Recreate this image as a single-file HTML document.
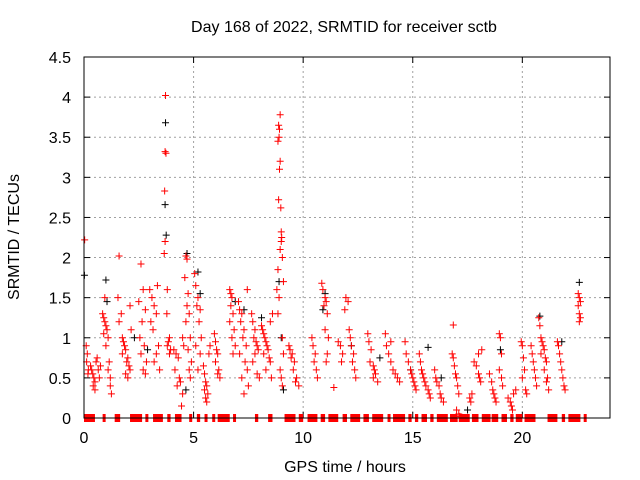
<!DOCTYPE html>
<html><head><meta charset="utf-8"><style>
body{margin:0;background:#fff}
svg{display:block;font-family:"Liberation Sans",sans-serif}
</style></head><body>
<svg id="chart" width="640" height="480">
<rect width="640" height="480" fill="#fff"/>
<text x="344" y="32" text-anchor="middle" font-size="16">Day 168 of 2022, SRMTID for receiver sctb</text>
<text x="345" y="472" text-anchor="middle" font-size="16">GPS time / hours</text>
<text transform="translate(19,237) rotate(-90)" text-anchor="middle" font-size="16">SRMTID / TECUs</text>
<g id="grid"></g><g id="ticks"></g><g id="zero"></g><g id="black"></g><g id="red"></g>
<rect x="84" y="57" width="526" height="361" fill="none" stroke="#000" stroke-width="1"/>
</svg>
<script>
const xTicks=[0,5,10,15,20];
const yTicks=[0,0.5,1,1.5,2,2.5,3,3.5,4,4.5];
const yTickLabels=["0","0.5","1","1.5","2","2.5","3","3.5","4","4.5"];
const zeroStart=[0,0.85,1.4,2.1,2.8,3.15,3.8,4.15,4.8,5.15,5.5,5.85,6.1,6.8,7.8,8.4,9.15,9.8,10.2,10.8,11.15,11.8,12.15,12.75,13.15,13.85,14.1,14.8,15.1,15.4,15.8,16.1,16.7,17.1,17.7,18.15,18.6,19.05,19.45,19.7,20.1,21.15,21.8,22.1,22.8];
const zeroEnd=[0.5,0.95,1.65,2.65,2.9,3.6,3.95,4.45,4.9,5.3,5.6,5.95,6.65,6.9,7.95,8.6,9.65,10,10.65,11,11.6,12,12.6,13,13.65,13.95,14.65,14.95,15.25,15.65,15.95,16.6,17.05,17.6,18,18.55,18.9,19.3,19.6,20,20.6,21.6,21.95,22.65,22.9];
const blackPoints=[[0.02,1.78],[1.0,1.72],[1.05,1.45],[2.3,1.0],[3.72,3.68],[3.7,2.66],[3.75,2.28],[4.7,2.05],[4.65,0.35],[5.2,1.82],[5.3,1.55],[6.9,1.45],[8.1,1.25],[8.9,1.7],[9.0,1.0],[9.1,0.35],[10.9,1.35],[11.0,1.55],[12.2,0.9],[13.5,0.75],[14.9,0.6],[15.7,0.88],[17.5,0.1],[19.0,0.85],[20.8,1.27],[21.8,0.95],[22.6,1.69],[7.3,1.35],[2.9,0.85],[16.3,0.5]];
const redPoints=[
[0.03,2.22],[0.1,0.9],[0.15,0.8],[0.12,0.7],[0.2,0.6],[0.18,0.55],
[0.3,0.65],[0.35,0.6],[0.4,0.55],[0.45,0.5],[0.5,0.45],[0.42,0.4],[0.55,0.7],[0.6,0.75],[0.65,0.6],[0.7,0.5],[0.5,0.35],[0.75,0.65],
[0.85,1.3],[0.9,1.25],[0.95,1.2],[1.0,1.15],[1.05,1.1],[0.9,1.05],[1.1,1.0],[1.0,0.9],[0.95,1.5],[1.15,0.7],[1.1,0.6],[1.2,0.5],[1.2,0.4],[1.25,0.3],
[1.6,2.02],[1.55,1.5],[1.7,1.3],[1.6,1.2],[1.75,1.0],[1.8,0.95],[1.85,0.9],[1.9,0.85],[1.75,0.8],[2.0,0.75],[1.95,0.7],[2.05,0.65],[2.1,0.6],[1.9,0.55],[2.0,0.5],[2.15,1.1],[2.1,1.4],
[2.6,1.92],[2.7,1.6],[2.5,1.45],[2.8,1.35],[2.65,1.2],[2.55,1.0],[2.75,0.9],[2.6,0.8],[2.85,0.7],[2.7,0.6],[2.8,0.55],
[3.0,1.6],[3.1,1.5],[3.2,1.4],[3.3,1.3],[3.05,1.2],[3.15,1.1],[3.4,0.9],[3.3,0.8],[3.2,0.7],[3.45,0.6],[3.35,1.65],
[3.72,4.02],[3.7,3.32],[3.74,3.3],[3.68,2.83],[3.7,2.2],[3.66,2.05],[3.8,1.6],[3.78,1.3],[3.9,1.0],[3.85,0.95],[3.8,0.9],[3.95,0.85],[3.9,0.8],
[4.1,0.85],[4.2,0.8],[4.3,0.75],[4.15,0.6],[4.35,0.5],[4.4,0.45],[4.25,0.4],[4.5,0.3],[4.45,0.15],[4.5,1.0],[4.55,0.9],
[4.65,2.02],[4.7,1.98],[4.6,1.75],[4.75,1.55],[4.7,1.4],[4.8,1.3],[4.65,1.2],[4.85,1.0],[4.75,0.85],[4.9,0.7],[4.8,0.6],[4.85,0.5],
[5.05,1.8],[5.1,1.65],[5.2,1.5],[5.15,1.4],[5.3,1.35],[5.25,1.2],[5.35,1.0],[5.1,0.9],[5.3,0.8],[5.2,0.6],
[5.45,0.65],[5.5,0.55],[5.55,0.45],[5.6,0.4],[5.5,0.35],[5.65,0.3],[5.55,0.25],[5.6,0.2],[5.7,0.8],[5.75,0.9],
[5.95,1.05],[6.0,0.95],[6.05,0.85],[6.1,0.8],[6.0,0.7],[6.15,0.6],[6.1,0.55],[6.2,0.5],
[6.65,1.6],[6.7,1.55],[6.75,1.5],[6.7,1.4],[6.8,1.3],[6.65,1.2],[6.85,1.1],[6.75,1.0],[6.9,0.9],[6.8,0.8],
[7.05,1.45],[7.1,1.35],[7.2,1.3],[7.15,1.2],[7.3,1.1],[7.25,1.0],[7.4,0.9],[7.1,0.8],[7.35,0.7],[7.45,0.6],[7.2,0.5],[7.5,0.4],[7.3,0.3],[7.45,1.6],
[7.65,1.3],[7.7,1.2],[7.8,1.1],[7.75,1.0],[7.85,0.95],[7.9,0.9],[7.95,0.85],[7.8,0.8],[7.7,0.7],[7.9,0.55],[8.0,0.5],
[8.1,1.15],[8.15,1.1],[8.2,1.05],[8.25,1.0],[8.3,0.95],[8.35,0.9],[8.4,0.85],[8.2,0.8],[8.45,0.75],[8.5,0.7],[8.3,0.6],[8.55,0.5],[8.6,1.3],[8.5,1.2],
[8.95,3.78],[8.88,3.65],[8.92,3.6],[8.9,3.5],[8.85,3.45],[8.95,3.2],[8.92,3.1],[8.88,2.72],[8.98,2.62],[9.0,2.32],[9.02,2.25],[9.0,2.2],[8.95,2.1],[9.05,2.0],[8.85,1.85],[8.9,1.5],[8.85,1.3],[9.05,1.0],[9.1,0.8],[8.95,0.6],[9.0,0.5],[9.05,0.4],[9.1,1.7],[8.8,1.6],
[9.35,0.9],[9.4,0.85],[9.5,0.8],[9.45,0.75],[9.6,0.7],[9.55,0.6],[9.7,0.5],[9.65,0.45],[9.8,0.4],
[10.4,1.0],[10.45,0.9],[10.55,0.8],[10.5,0.7],[10.6,0.6],[10.65,0.5],
[10.85,1.68],[10.9,1.6],[11.0,1.5],[11.05,1.45],[10.95,1.4],[11.1,1.3],[11.0,1.1],[11.15,1.0],[11.1,0.8],[11.05,0.7],
[11.4,0.38],[11.6,0.95],[11.7,0.9],[11.8,0.8],[11.75,0.7],
[11.95,1.5],[12.05,1.45],[11.9,1.35],[12.1,1.1],[12.15,1.0],[12.2,0.9],[12.3,0.8],[12.25,0.7],[12.35,0.6],[12.4,0.5],
[12.95,1.05],[13.0,0.95],[13.1,0.85],[13.05,0.7],[13.2,0.65],[13.25,0.6],[13.3,0.55],[13.2,0.5],[13.4,0.45],
[13.75,1.05],[13.8,0.9],[13.9,0.8],[14.0,0.7],[14.1,0.6],[14.2,0.55],[14.3,0.5],[14.4,0.45],[14.0,0.95],
[14.65,0.95],[14.7,0.8],[14.8,0.7],[14.9,0.6],[14.95,0.55],[15.0,0.5],[15.05,0.45],[15.1,0.4],[15.15,0.35],
[15.3,0.8],[15.35,0.7],[15.4,0.6],[15.45,0.55],[15.5,0.5],[15.55,0.45],[15.6,0.4],[15.7,0.35],[15.75,0.3],[15.8,0.25],
[16.0,0.6],[16.05,0.5],[16.1,0.45],[16.2,0.4],[16.25,0.3],[16.3,0.25],[16.4,0.2],
[16.85,1.16],[16.8,0.8],[16.85,0.75],[16.9,0.65],[16.95,0.55],[17.0,0.5],[17.05,0.4],[17.1,0.3],[17.0,0.1],[17.1,0.05],[17.15,0.02],
[17.6,0.25],[17.65,0.2],[17.7,0.3],[17.8,0.7],[17.9,0.65],[18.0,0.55],[18.05,0.5],[18.1,0.45],[18.0,0.8],[18.15,0.85],
[18.5,0.55],[18.6,0.45],[18.65,0.35],[18.7,0.3],[18.75,0.25],[18.8,0.2],
[18.95,1.05],[19.0,1.0],[19.05,0.8],[18.95,0.6],[19.05,0.5],[19.1,0.4],
[19.35,0.25],[19.45,0.2],[19.5,0.15],[19.55,0.1],[19.6,0.3],[19.7,0.35],
[19.95,0.95],[20.0,0.9],[20.05,0.75],[20.1,0.6],[20.0,0.5],[20.15,0.35],[20.2,0.3],
[20.4,0.9],[20.45,0.8],[20.5,0.7],[20.55,0.6],[20.6,0.5],[20.65,0.4],
[20.75,1.25],[20.8,1.15],[20.85,1.0],[20.9,0.95],[20.95,0.9],[21.0,0.85],[20.85,0.8],[21.05,0.75],[21.1,0.7],[21.0,0.6],[21.15,0.5],[21.1,0.45],[21.2,0.35],
[21.6,0.95],[21.65,0.9],[21.7,0.8],[21.75,0.7],[21.8,0.6],[21.85,0.5],[21.9,0.4],[21.95,0.35],
[22.55,1.55],[22.6,1.5],[22.65,1.45],[22.55,1.4],[22.6,1.3],[22.65,1.25],[22.6,1.2]
];
const NS="http://www.w3.org/2000/svg";
const X0=84,X1=610,Y0=418,Y1=57,XMAX=24,YMAX=4.5;
function sx(h){return X0+(X1-X0)*h/XMAX;}
function sy(v){return Y0-(Y0-Y1)*v/YMAX;}
function mk(tag,attrs,parent){const e=document.createElementNS(NS,tag);for(const k in attrs)e.setAttribute(k,attrs[k]);parent.appendChild(e);return e;}
const grid=document.getElementById('grid'),ticks=document.getElementById('ticks');
xTicks.forEach((t,i)=>{
  const x=sx(t);
  if(t>0){const g=mk('line',{x1:x,x2:x,y1:Y0,y2:Y1,stroke:'#a0a0a0','stroke-dasharray':'2,3'},grid);
  
  }
  mk('line',{x1:x,x2:x,y1:Y0,y2:Y0-6,stroke:'#000'},ticks);
  mk('line',{x1:x,x2:x,y1:Y1,y2:Y1+6,stroke:'#000'},ticks);
  const tx=mk('text',{x:x,y:443,'text-anchor':'middle','font-size':16},ticks);
  tx.textContent=String(t);
  
  
});
yTicks.forEach((t,i)=>{
  const y=sy(t);
  if(t>0&&t<YMAX){const g=mk('line',{x1:X0,x2:X1,y1:y,y2:y,stroke:'#a0a0a0','stroke-dasharray':'2,3'},grid);
  
  }
  mk('line',{x1:X0,x2:X0+6,y1:y,y2:y,stroke:'#000'},ticks);
  mk('line',{x1:X1,x2:X1-6,y1:y,y2:y,stroke:'#000'},ticks);
  const tx=mk('text',{x:71,y:y+6,'text-anchor':'end','font-size':16},ticks);
  tx.textContent=yTickLabels[i];
  
  
});
const zg=document.getElementById('zero');
zeroStart.forEach((s,i)=>{
  const r=mk('rect',{x:sx(s),y:Y0-4,width:Math.max(3,sx(zeroEnd[i])-sx(s)),height:8,fill:'#ff0000'},zg);
  
  
});
function plus(p,color,parent,name){
  const x=sx(p[0]),y=sy(p[1]);
  const e=mk('path',{d:`M${x-3.5},${y}H${x+3.5}M${x},${y-3.5}V${y+3.5}`,stroke:color,'stroke-width':1,fill:'none'},parent);
  
  
}
const bg=document.getElementById('black'),rg=document.getElementById('red');
blackPoints.forEach(p=>plus(p,'#000',bg,'black-point'));
redPoints.forEach(p=>plus(p,'#ff0000',rg,'red-point'));
</script>
</body></html>
